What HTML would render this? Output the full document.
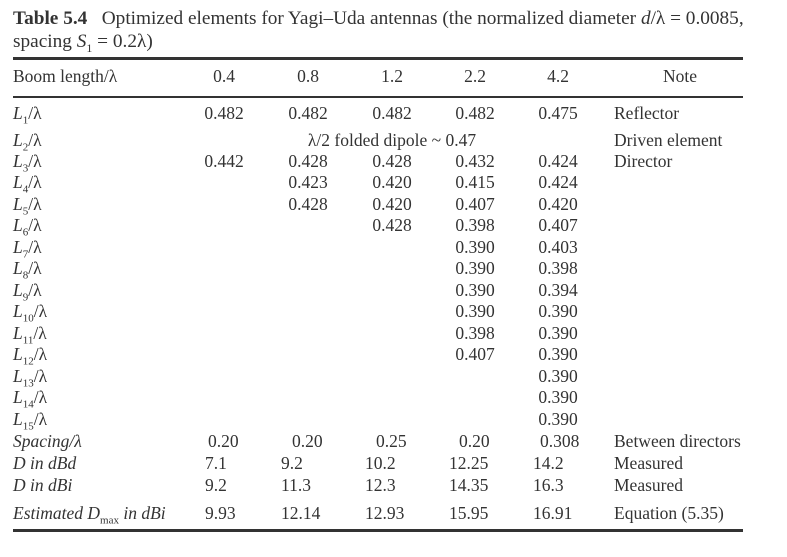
<!DOCTYPE html>
<html><head><meta charset="utf-8"><style>
body{margin:0;background:#fff;width:787px;height:557px;position:relative;overflow:hidden;font-family:"Liberation Serif",serif;color:#333;}
.t{position:absolute;font-size:17.5px;line-height:20px;white-space:nowrap;}
.c{transform:translateX(-50%);}
.i{font-style:italic;}
.rule{position:absolute;left:13px;width:730px;background:#333;}
</style></head><body>
<div class="t" style="left:13px;top:8px;font-size:19.3px;line-height:22px"><b>Table 5.4</b>&nbsp;&nbsp; Optimized elements for Yagi–Uda antennas (the normalized diameter <i>d</i>/λ = 0.0085,</div>
<div class="t" style="left:13px;top:31px;font-size:19.3px;line-height:22px">spacing <i>S</i><sub style="font-size:12px">1</sub> = 0.2λ)</div>
<div class="rule" style="top:57px;height:3px"></div>
<div class="rule" style="top:96px;height:1.5px"></div>
<div class="rule" style="top:529px;height:3px"></div>
<div id="tbl"></div>
<script>
const colX=[224,308,392,475,558];
const headers=['0.4','0.8','1.2','2.2','4.2'];
const rowLabels=['1','2','3','4','5','6','7','8','9','10','11','12','13','14','15'];
const rowY=[114,141,162,183,205,226,248,269,291,312,334,355,377,398,420];
const vals=[
['0.482','0.482','0.482','0.482','0.475'],
['','','','',''],
['0.442','0.428','0.428','0.432','0.424'],
['','0.423','0.420','0.415','0.424'],
['','0.428','0.420','0.407','0.420'],
['','','0.428','0.398','0.407'],
['','','','0.390','0.403'],
['','','','0.390','0.398'],
['','','','0.390','0.394'],
['','','','0.390','0.390'],
['','','','0.398','0.390'],
['','','','0.407','0.390'],
['','','','','0.390'],
['','','','','0.390'],
['','','','','0.390']];
const notes={0:'Reflector',1:'Driven element',2:'Director'};
const botLabels=['Spacing/λ','D in dBd','D in dBi','Estimated D<sub style="font-size:11px;font-style:normal">max</sub> in dBi'];
const botY=[442,464,486,514];
const botVals=[['0.20','0.20','0.25','0.20','0.308'],['7.1','9.2','10.2','12.25','14.2'],['9.2','11.3','12.3','14.35','16.3'],['9.93','12.14','12.93','15.95','16.91']];
const botX=[205,281,365,449,533];
const botNotes=['Between directors','Measured','Measured','Equation (5.35)'];
const T=document.getElementById('tbl');
function add(html,x,y,center,name,cls){const d=document.createElement('div');d.className='t'+(center?' c':'')+(cls?' '+cls:'');d.style.left=x+'px';d.style.top=(y-11)+'px';d.innerHTML=html;


T.appendChild(d);}
add('Boom length/λ',13,77,false,'header-boom-length');
headers.forEach((h,j)=>add(h,colX[j],77,true,'header-col'));
add('Note',680,77,true,'header-note');
rowLabels.forEach((r,i)=>{add('<i>L</i><sub style="font-size:11px">'+r+'</sub>/λ',13,rowY[i],false,'row-label');
vals[i].forEach((v,j)=>{if(v)add(v,colX[j],rowY[i],true,'cell-value');});
if(notes[i])add(notes[i],614,rowY[i],false,'note-cell');});
add('λ/2 folded dipole ~ 0.47',392,rowY[1],true,'driven-element-value');
botLabels.forEach((l,i)=>{add(l,13,botY[i],false,'row-label','i');
botVals[i].forEach((v,j)=>{let x=botX[j];if(i==0)x=colX[j]-(j==4?18:16);add(v,x,botY[i],false,'cell-value');});
add(botNotes[i],614,botY[i],false,'note-cell');});
</script>
</body></html>
